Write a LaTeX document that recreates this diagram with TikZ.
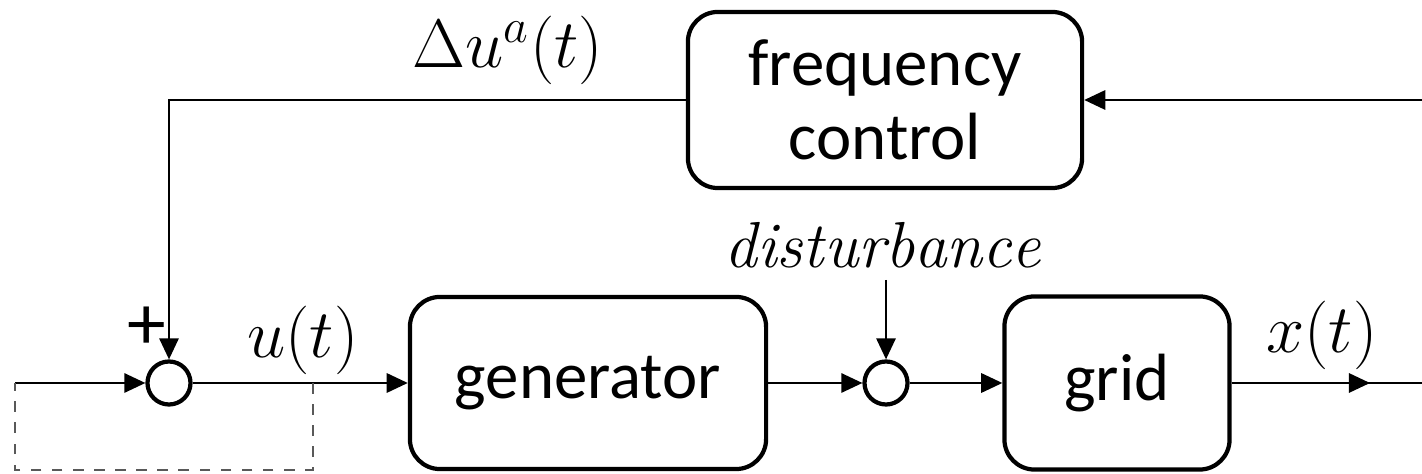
\documentclass[tikz,border=0pt]{standalone}
\usepackage{fix-cm}
\usepackage{fontspec}
\newfontfamily\boxfont{Carlito}
\usetikzlibrary{arrows.meta,positioning}
\begin{document}
\begin{tikzpicture}[x=0.01cm,y=-0.01cm,
  blockbox/.style={draw,line width=1.2pt,rounded corners=0.3cm,align=center,font=\boxfont\fontsize{19}{22}\selectfont,inner sep=0pt},
  sumnode/.style={draw,circle,line width=1.2pt,minimum size=0.43cm,inner sep=0pt},
  conn/.style={line width=0.6pt},
  arr/.style={conn,-{Triangle[length=6pt,width=5.5pt]}},
  lbl/.style={font=\fontsize{19.5}{22}\selectfont,inner sep=0pt}]
\useasboundingbox (0,0) rectangle (1422,474);
\node[blockbox,minimum width=3.94cm,minimum height=1.76cm] (fc) at (885,100) {frequency\\[-1pt]control};
\node[blockbox,minimum width=3.56cm,minimum height=1.72cm] (gen) at (588,383) {generator};
\node[blockbox,minimum width=2.25cm,minimum height=1.73cm] (grid) at (1117,383) {grid};
\node[sumnode] (s1) at (169,383) {};
\node[sumnode] (s2) at (886,383) {};
\coordinate (fbin) at (1422,100);
\coordinate (xout) at (1422,383);
\coordinate (xmid) at (1370,383);
\coordinate (din) at (886,280);
\coordinate (inl) at (15,383);
\coordinate (dtr) at (313,383);
\coordinate (dbr) at (313,470);
\coordinate (dbl) at (15,470);
\node[lbl] (dua) at (508,50) {$\Delta u^{a}(t)$};
\node[lbl] (ut) at (303,340) {$u(t)$};
\node[lbl] (xt) at (1322,335) {$x(t)$};
\node[lbl,font=\fontsize{18.5}{21}\selectfont] (dist) at (883,245) {$\mathit{disturbance}$};
\node[lbl,font=\boxfont\fontsize{22}{24}\selectfont] (plus) at (147,328) {+};
\draw[arr] (fbin) -- (fc.east);
\draw[arr] (fc.west) -| (s1.north);
\draw[arr] (inl) -- (s1.west);
\draw[arr] (s1.east) -- (gen.west);
\draw[arr] (gen.east) -- (s2.west);
\draw[arr] (din) -- (s2.north);
\draw[arr] (s2.east) -- (grid.west);
\draw[conn] (grid.east) -- (xout);
\draw[arr] (grid.east) -- (xmid);
\draw[dashed,gray!70!black,line width=0.5pt] (dtr) -- (dbr) -- (dbl) -- (inl);
\end{tikzpicture}
\end{document}
